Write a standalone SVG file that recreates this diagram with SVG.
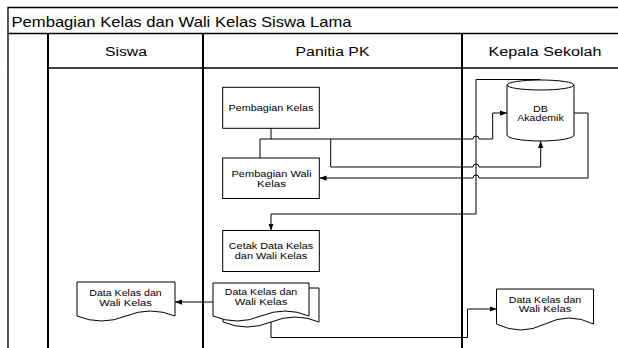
<svg xmlns="http://www.w3.org/2000/svg" width="618" height="348" viewBox="0 0 618 348">
<style>
.frame{fill:none;stroke:#000;stroke-width:1.3}
.lane{fill:none;stroke:#000;stroke-width:2}
.box{fill:#fff;stroke:#000;stroke-width:1}
.conn{fill:none;stroke:#000;stroke-width:1}
.t{font-family:"Liberation Sans",Arial,sans-serif;fill:#000;text-anchor:middle}
.title{font-size:15px;text-anchor:start}
.hdr{font-size:12.5px}
.n{font-size:8.5px}
</style>
<defs>
<marker id="arr" viewBox="0 0 8 6" refX="8" refY="3" markerWidth="7" markerHeight="6" markerUnits="userSpaceOnUse" orient="auto">
<path d="M0,0 L8,3 L0,6 Z" fill="#000"/>
</marker>
</defs>
<rect width="618" height="348" fill="#fff"/>
<g id="pool">
<path class="frame" d="M8,348 V7.5 H620 M8,33.5 H620 M48,68 H620"/>
<path class="lane" d="M48,33.5 V348 M203,33.5 V348 M462,33.5 V348"/>
<text class="t title" x="11.5" y="27" textLength="340" lengthAdjust="spacingAndGlyphs">Pembagian Kelas dan Wali Kelas Siswa Lama</text>
<text class="t hdr" x="126" y="55.5" textLength="42" lengthAdjust="spacingAndGlyphs">Siswa</text>
<text class="t hdr" x="332.5" y="55.5" textLength="74" lengthAdjust="spacingAndGlyphs">Panitia PK</text>
<text class="t hdr" x="545" y="55.5" textLength="113" lengthAdjust="spacingAndGlyphs">Kepala Sekolah</text>
</g>
<g id="connectors">
<path class="conn" d="M271,128 V139 H260 V158"/>
<path class="conn" d="M271,139 H473 A3,3 0 0 1 479,139 H492.7 V113 H507" marker-end="url(#arr)"/>
<path class="conn" d="M330.7,139 V167 H473 A3,3 0 0 1 479,167 H540.7 V141" marker-end="url(#arr)"/>
<path class="conn" d="M574,113 H588 V178 H479 A3,3 0 0 0 473,178 H319.5" marker-end="url(#arr)"/>
<path class="conn" d="M540.5,79.5 H476 V214 H271 V230.5" marker-end="url(#arr)"/>
<path class="conn" d="M213,302 H175" marker-end="url(#arr)"/>
<path class="conn" d="M271,322 V337.5 H467.5 V309 H496.5" marker-end="url(#arr)"/>
</g>
<g id="pembagian-kelas">
<rect class="box" x="222.7" y="87.3" width="96.6" height="41"/>
<text class="t n" x="271" y="111.3" textLength="85" lengthAdjust="spacingAndGlyphs">Pembagian Kelas</text>
</g>
<g id="pembagian-wali-kelas">
<rect class="box" x="222.7" y="158" width="96.6" height="40.5"/>
<text class="t n" x="271.5" y="177.3" textLength="80" lengthAdjust="spacingAndGlyphs">Pembagian Wali</text>
<text class="t n" x="271.5" y="187" textLength="29" lengthAdjust="spacingAndGlyphs">Kelas</text>
</g>
<g id="cetak">
<rect class="box" x="222.7" y="230.5" width="96.6" height="41"/>
<text class="t n" x="271" y="249.3" textLength="84.5" lengthAdjust="spacingAndGlyphs">Cetak Data Kelas</text>
<text class="t n" x="271" y="259" textLength="72.5" lengthAdjust="spacingAndGlyphs">dan Wali Kelas</text>
</g>
<g id="db-akademik">
<path class="box" d="M507,85 V135 A33.5,6 0 0 0 574,135 V85"/>
<ellipse class="box" cx="540.5" cy="85" rx="33.5" ry="5"/>
<text class="t n" x="540.5" y="112.2" textLength="15" lengthAdjust="spacingAndGlyphs">DB</text>
<text class="t n" x="540.5" y="121.2" textLength="46.5" lengthAdjust="spacingAndGlyphs">Akademik</text>
</g>
<g id="doc-panitia">
<path class="box" d="M223,288 H319 V322 Q295,312 271,322 T223,322 Z"/>
<path class="box" d="M213,283 H309 V316 Q285,306 261,316 T213,316 Z"/>
<text class="t n" x="261" y="294.8" textLength="72.5" lengthAdjust="spacingAndGlyphs">Data Kelas dan</text>
<text class="t n" x="261" y="304.8" textLength="52.5" lengthAdjust="spacingAndGlyphs">Wali Kelas</text>
</g>
<g id="doc-siswa">
<path class="box" d="M77,282 H175 V316 Q150.5,306 126,316 T77,316 Z"/>
<text class="t n" x="125.5" y="295.8" textLength="72.5" lengthAdjust="spacingAndGlyphs">Data Kelas dan</text>
<text class="t n" x="125.5" y="305.8" textLength="52.5" lengthAdjust="spacingAndGlyphs">Wali Kelas</text>
</g>
<g id="doc-kepala">
<path class="box" d="M496.5,289 H593.5 V324 Q569,312 545,324 T496.5,324 Z"/>
<text class="t n" x="545" y="302.5" textLength="72.5" lengthAdjust="spacingAndGlyphs">Data Kelas dan</text>
<text class="t n" x="545" y="312" textLength="52.5" lengthAdjust="spacingAndGlyphs">Wali Kelas</text>
</g>
</svg>
